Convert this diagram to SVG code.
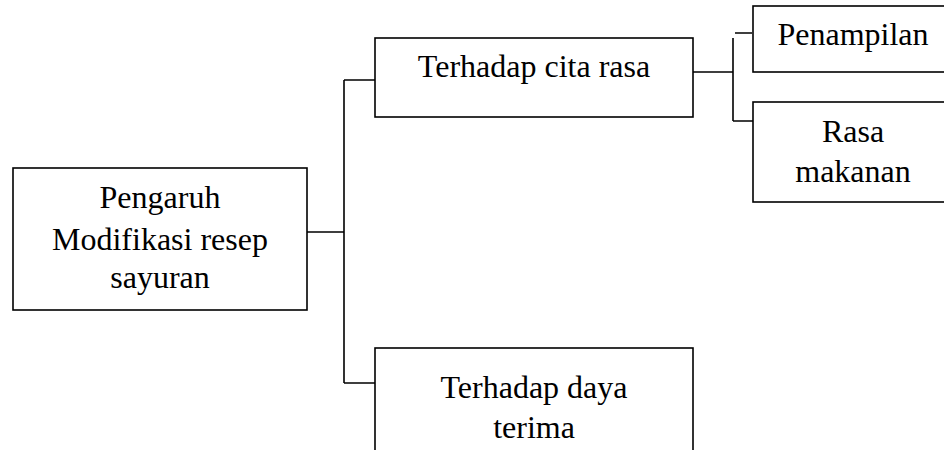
<svg xmlns="http://www.w3.org/2000/svg" width="944" height="450" viewBox="0 0 944 450">
<style>
.box{fill:#fff;stroke:#000;stroke-width:1.6}
.ln{fill:none;stroke:#000;stroke-width:1.6}
text{font-family:"Liberation Serif","Times New Roman",serif;font-size:32px;fill:#000;text-anchor:middle}
</style>
<rect width="944" height="450" fill="#fff"/>
<g id="connectors">
<path class="ln" d="M307 232 H344 M344 80 V383 M344 80 H375 M344 383 H375"/>
<path class="ln" d="M693 72 H733 M733 38 V121 M733 121 H753 M735 33 H752"/>
</g>
<g id="root">
<rect class="box" x="13" y="168" width="294" height="142"/>
<text x="160" y="208">Pengaruh</text>
<text x="160" y="250">Modifikasi resep</text>
<text x="160" y="288">sayuran</text>
</g>
<g id="cita-rasa">
<rect class="box" x="375" y="38" width="318" height="79"/>
<text x="534" y="77">Terhadap cita rasa</text>
</g>
<g id="daya-terima">
<rect class="box" x="375" y="348" width="318" height="120"/>
<text x="534" y="398">Terhadap daya</text>
<text x="534" y="438">terima</text>
</g>
<g id="penampilan">
<rect class="box" x="753" y="6" width="200" height="66"/>
<text x="853" y="45">Penampilan</text>
</g>
<g id="rasa-makanan">
<rect class="box" x="753" y="102" width="200" height="100"/>
<text x="853" y="142">Rasa</text>
<text x="853" y="182">makanan</text>
</g>
</svg>
